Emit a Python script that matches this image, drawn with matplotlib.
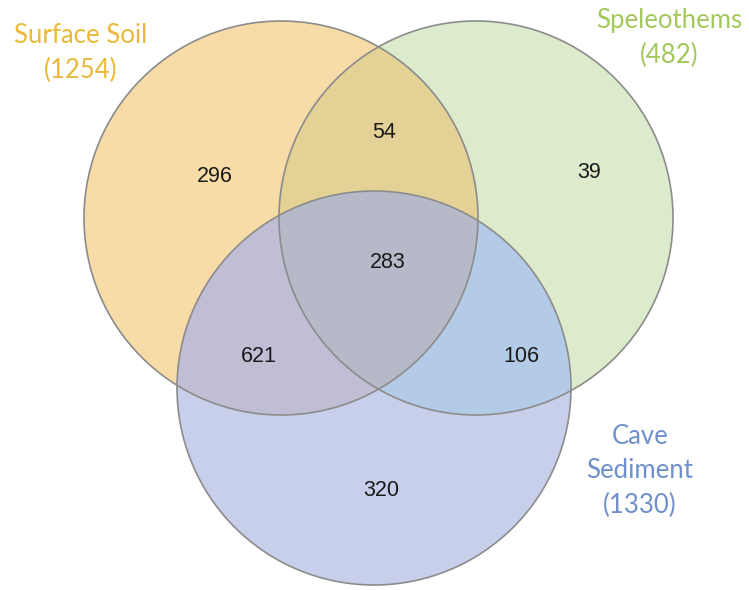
import numpy as np
import matplotlib
matplotlib.use("Agg")
import matplotlib.pyplot as plt
from matplotlib.patches import Circle, Polygon

# set names, totals and region counts
set_names = ["Surface Soil", "Speleothems", "Cave\nSediment"]
set_totals = [1254, 482, 1330]
only_counts = [296, 39, 320]          # soil, speleo, cave
pair_counts = [54, 621, 106]          # soil&speleo, soil&cave, speleo&cave
triple_count = 283

# circle geometry in pixel coords (x, y, r)
centers = [(281, 218), (476, 218), (374, 388)]
radius = 197

fill_only = ["#F8DCA8", "#DCEBCC", "#C8CFEB"]
fill_pair = ["#E3D196", "#C0BED4", "#B4CBE7"]
fill_triple = "#B6B9C8"
label_colors = ["#EBB93A", "#A3C85C", "#6F90CC"]


def lens(c1, c2, r1, r2, n=200):
    '''
    Polygon vertices of the intersection of two circles
    '''
    c1 = np.array(c1, float)
    c2 = np.array(c2, float)
    d = np.hypot(*(c2 - c1))
    phi = np.arctan2(c2[1] - c1[1], c2[0] - c1[0])
    a1 = np.arccos((d**2 + r1**2 - r2**2) / (2 * d * r1))
    a2 = np.arccos((d**2 + r2**2 - r1**2) / (2 * d * r2))
    t1 = np.linspace(phi - a1, phi + a1, n)
    t2 = np.linspace(phi + np.pi - a2, phi + np.pi + a2, n)
    p1 = np.column_stack([c1[0] + r1 * np.cos(t1), c1[1] + r1 * np.sin(t1)])
    p2 = np.column_stack([c2[0] + r2 * np.cos(t2), c2[1] + r2 * np.sin(t2)])
    return np.vstack([p1, p2])


fig = plt.figure(figsize=(7.49, 5.90), dpi=100)
ax = fig.add_axes([0, 0, 1, 1])
ax.set_xlim(0, 749)
ax.set_ylim(590, 0)
ax.axis("off")

circles = []
for c, col in zip(centers, fill_only):
    p = Circle(c, radius, facecolor=col, edgecolor="none", zorder=1)
    ax.add_patch(p)
    circles.append(p)

# pairwise overlaps: draw second circle clipped by the first one
pairs = [(0, 1), (0, 2), (1, 2)]
for (i, j), col in zip(pairs, fill_pair):
    p = Circle(centers[j], radius, facecolor=col, edgecolor="none", zorder=2)
    ax.add_patch(p)
    p.set_clip_path(circles[i])

# triple overlap
tri = Polygon(lens(centers[0], centers[1], radius, radius), closed=True,
              facecolor=fill_triple, edgecolor="none", zorder=3)
ax.add_patch(tri)
tri.set_clip_path(circles[2])

# outlines
for c in centers:
    ax.add_patch(Circle(c, radius, facecolor="none", edgecolor="#8C8C8C",
                        linewidth=1.2, zorder=4))

# numbers
num_font = dict(fontsize=15.5, family="Liberation Sans", color="#1A1A1A",
                ha="center", va="center", zorder=5)
ax.text(215, 177, str(only_counts[0]), **num_font)
ax.text(589, 173, str(only_counts[1]), **num_font)
ax.text(381, 490, str(only_counts[2]), **num_font)
ax.text(384, 133, str(pair_counts[0]), **num_font)
ax.text(259, 357, str(pair_counts[1]), **num_font)
ax.text(521, 356, str(pair_counts[2]), **num_font)
ax.text(388, 263, str(triple_count), **num_font)

# set labels
label_pos = [(81, 53), (669, 38), (640, 471)]
for name, tot, pos, col in zip(set_names, set_totals, label_pos, label_colors):
    ax.text(pos[0], pos[1], "%s\n(%d)" % (name, tot), fontsize=18.5,
            family="Lato", color=col, ha="center", va="center",
            linespacing=1.45, zorder=5)

fig.savefig("out.png", dpi=100)
